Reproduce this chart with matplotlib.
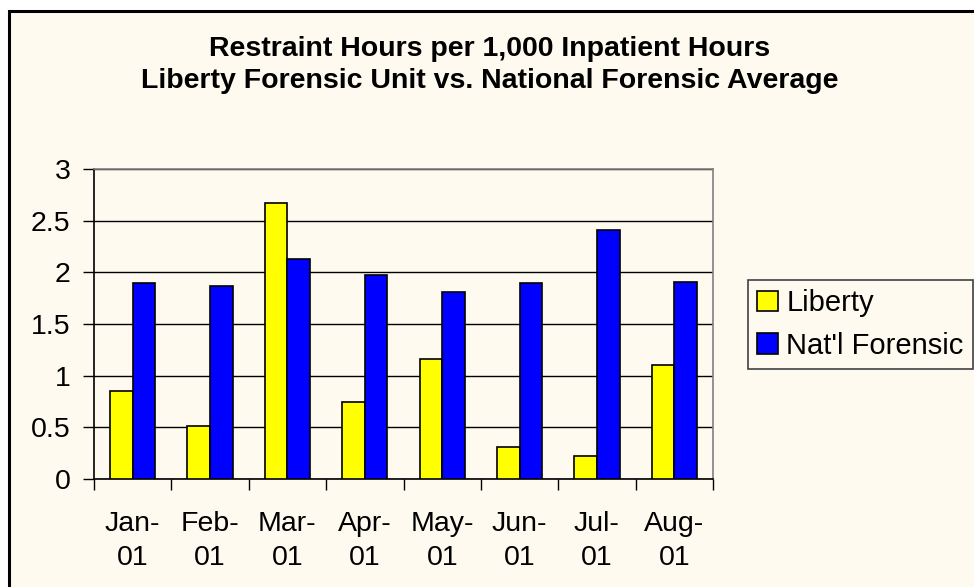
import numpy as np
import matplotlib.pyplot as plt
from matplotlib.patches import Rectangle

plt.rcParams['font.family'] = ['Liberation Sans', 'DejaVu Sans']

months = ['Jan-\n01', 'Feb-\n01', 'Mar-\n01', 'Apr-\n01', 'May-\n01', 'Jun-\n01', 'Jul-\n01', 'Aug-\n01']
liberty = [0.85, 0.51, 2.67, 0.75, 1.16, 0.31, 0.22, 1.10]
national = [1.90, 1.87, 2.13, 1.97, 1.81, 1.90, 2.41, 1.91]

cream = '#FFFAEF'

fig = plt.figure(figsize=(9.74, 5.87), dpi=100, facecolor='white')
# chart area frame (cut off at right and bottom)
fig.patches.append(Rectangle((9 / 974, -0.1), 1.2, 1.1 - 11 / 587, transform=fig.transFigure,
                             facecolor=cream, edgecolor='black', linewidth=2.2, zorder=-1))

ax = fig.add_axes([94 / 974, 1 - 479 / 587, (713 - 94) / 974, (479 - 169) / 587])
ax.set_facecolor(cream)

x = np.arange(len(months)) + 0.5
w = 0.293
ax.bar(x - w / 2, liberty, w, color='#FFFF00', edgecolor='black', linewidth=1.2, label='Liberty', zorder=3)
ax.bar(x + w / 2, national, w, color='#0000FF', edgecolor='black', linewidth=1.2, label="Nat'l Forensic", zorder=3)

ax.set_xlim(0, len(months))
ax.set_ylim(0, 3)
ax.set_yticks(np.arange(0, 3.01, 0.5))
ax.set_yticklabels(['0', '0.5', '1', '1.5', '2', '2.5', '3'], fontsize=20.5)
ax.set_xticks(np.arange(len(months) + 1))
ax.set_xticklabels([])
ax.set_xticks(x, minor=True)
ax.set_xticklabels(months, minor=True, fontsize=20.5, linespacing=1.4)
ax.tick_params(axis='x', which='major', length=8, width=1, color='black', direction='out')
ax.tick_params(axis='x', which='minor', length=0, pad=23)
ax.tick_params(axis='y', length=8, width=1, color='black', pad=9)

ax.grid(axis='y', color='black', linewidth=1)
ax.set_axisbelow(True)
for s in ['left', 'bottom']:
    ax.spines[s].set_color('black')
    ax.spines[s].set_linewidth(1.2)
for s in ['top', 'right']:
    ax.spines[s].set_color('#808080')
    ax.spines[s].set_linewidth(1.2)

fig.text(490 / 974, 1 - 49 / 587, 'Restraint Hours per 1,000 Inpatient Hours',
         ha='center', va='center', fontsize=20.5, fontweight='bold')
fig.text(490 / 974, 1 - 81 / 587, 'Liberty Forensic Unit vs. National Forensic Average',
         ha='center', va='center', fontsize=20.5, fontweight='bold')

leg = ax.legend(loc='upper left', bbox_to_anchor=(748 / 974, 1 - 280 / 587),
                bbox_transform=fig.transFigure, fontsize=21, frameon=True, fancybox=False,
                handlelength=0.7, handleheight=0.7, handletextpad=0.3, labelspacing=0.5,
                borderpad=0.32, borderaxespad=0, facecolor=cream, framealpha=1)
leg.get_frame().set_edgecolor('#404040')
leg.get_frame().set_linewidth(1.2)

fig.savefig('out.png', dpi=100, facecolor=fig.get_facecolor())
